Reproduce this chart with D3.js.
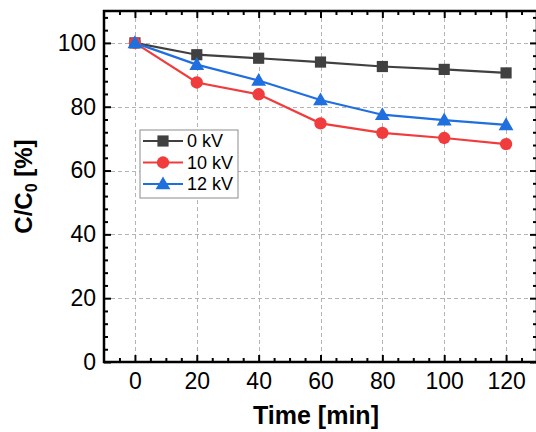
<!DOCTYPE html>
<html>
<head>
<meta charset="utf-8">
<script src="https://cdn.jsdelivr.net/npm/d3@7"></script>
<style>
  body { margin: 0; background: #fff; }
  svg { display: block; font-family: "Liberation Sans", Arial, sans-serif; }
</style>
</head>
<body>
<svg id="chart" width="536" height="432"></svg>
<script>
// data
var times = [0, 20, 40, 60, 80, 100, 120];
var kv0 = [100, 96.3, 95.2, 94.0, 92.6, 91.7, 90.6];
var kv10 = [100, 87.6, 83.9, 74.8, 71.8, 70.2, 68.3];
var kv12 = [100, 93.2, 88.2, 82.1, 77.5, 75.8, 74.3];
var seriesNames = ['0 kV', '10 kV', '12 kV'];
var xTicks = [0, 20, 40, 60, 80, 100, 120];
var yTicks = [0, 20, 40, 60, 80, 100];

var series = [
  {name: seriesNames[0], values: kv0, color: '#404040', symbol: d3.symbolSquare, size: 125},
  {name: seriesNames[1], values: kv10, color: '#f03c3c', symbol: d3.symbolCircle, size: 120},
  {name: seriesNames[2], values: kv12, color: '#1f6fdf', symbol: d3.symbolTriangle, size: 95}
];

// plot frame (window.top is read-only, so no plain "top" here)
var plotL = 104, plotR = 537, plotT = 11, plotB = 362;

var x = d3.scaleLinear().domain([-10, 130]).range([plotL, plotR]);
var y = d3.scaleLinear().domain([0, 110]).range([plotB, plotT]);

var svg = d3.select('#chart');

// dashed grid
var grid = svg.append('g').attr('class', 'grid')
    .attr('stroke', '#b4b4b4').attr('stroke-dasharray', '4,3').attr('stroke-width', 1);
grid.selectAll('line.v').data(xTicks).enter().append('line')
    .attr('x1', function(d) { return Math.round(x(d)) + 0.5; })
    .attr('x2', function(d) { return Math.round(x(d)) + 0.5; })
    .attr('y1', plotT).attr('y2', plotB);
grid.selectAll('line.h').data(yTicks.filter(function(d) { return d > 0; })).enter().append('line')
    .attr('y1', function(d) { return Math.round(y(d)) + 0.5; })
    .attr('y2', function(d) { return Math.round(y(d)) + 0.5; })
    .attr('x1', plotL).attr('x2', plotR);

// axes, ticks inward on all four sides
var xMinor = d3.range(-5, 131, 5).filter(function(d) { return d % 20 !== 0; });
var yMinor = d3.range(4, 110, 4).filter(function(d) { return d % 20 !== 0; });

function addAxis(axis, tr) {
  var g = svg.append('g').attr('transform', tr).call(axis);
  g.select('.domain').remove();
  g.selectAll('line').attr('stroke', '#000').attr('stroke-width', 2);
  return g;
}

var xb = addAxis(d3.axisBottom(x).tickValues(xTicks).tickSize(-7).tickPadding(11)
    .tickFormat(d3.format('d')), 'translate(0,' + plotB + ')');
xb.selectAll('text').attr('font-size', 23).attr('fill', '#000');
addAxis(d3.axisBottom(x).tickValues(xMinor).tickSize(-4).tickFormat(''), 'translate(0,' + plotB + ')');
addAxis(d3.axisTop(x).tickValues(xTicks).tickSize(-7).tickFormat(''), 'translate(0,' + plotT + ')');
addAxis(d3.axisTop(x).tickValues(xMinor).tickSize(-4).tickFormat(''), 'translate(0,' + plotT + ')');

var yl = addAxis(d3.axisLeft(y).tickValues(yTicks).tickSize(-7).tickPadding(8)
    .tickFormat(d3.format('d')), 'translate(' + plotL + ',0)');
yl.selectAll('text').attr('font-size', 23).attr('fill', '#000');
addAxis(d3.axisLeft(y).tickValues(yMinor).tickSize(-4).tickFormat(''), 'translate(' + plotL + ',0)');
addAxis(d3.axisRight(y).tickValues(yTicks).tickSize(-7).tickFormat(''), 'translate(' + plotR + ',0)');
addAxis(d3.axisRight(y).tickValues(yMinor).tickSize(-4).tickFormat(''), 'translate(' + plotR + ',0)');

// frame
svg.append('rect')
    .attr('x', plotL).attr('y', plotT)
    .attr('width', plotR - plotL).attr('height', plotB - plotT)
    .attr('fill', 'none').attr('stroke', '#000').attr('stroke-width', 2.5);

// lines and markers
var line = d3.line()
    .x(function(d, i) { return x(times[i]); })
    .y(function(d) { return y(d); });

series.forEach(function(s) {
  svg.append('path')
      .datum(s.values)
      .attr('d', line)
      .attr('fill', 'none')
      .attr('stroke', s.color)
      .attr('stroke-width', 2.2);
});

series.forEach(function(s) {
  var dy = s.symbol === d3.symbolTriangle ? 1 : 0;
  svg.append('g').selectAll('path')
      .data(s.values)
      .enter().append('path')
      .attr('d', d3.symbol().type(s.symbol).size(s.size))
      .attr('transform', function(d, i) {
        return 'translate(' + x(times[i]) + ',' + (y(d) + dy) + ')';
      })
      .attr('fill', s.color);
});

// legend
var lg = svg.append('g').attr('transform', 'translate(140,130)');
lg.append('rect')
    .attr('x', 0).attr('y', 0).attr('width', 98).attr('height', 68)
    .attr('fill', '#fff').attr('stroke', '#8c8c8c').attr('stroke-width', 1);
series.forEach(function(s, i) {
  var ry = 11 + i * 21.5;
  lg.append('line')
      .attr('x1', 3).attr('x2', 43).attr('y1', ry).attr('y2', ry)
      .attr('stroke', s.color).attr('stroke-width', 2.2);
  lg.append('path')
      .attr('d', d3.symbol().type(s.symbol).size(s.size))
      .attr('transform', 'translate(23,' + (ry + (s.symbol === d3.symbolTriangle ? 1 : 0)) + ')')
      .attr('fill', s.color);
  lg.append('text')
      .attr('x', 47).attr('y', ry).attr('dy', '0.36em')
      .attr('font-size', 18).attr('fill', '#000')
      .text(s.name);
});

// axis titles
svg.append('text')
    .attr('x', 316).attr('y', 424)
    .attr('text-anchor', 'middle')
    .attr('font-size', 25).attr('font-weight', 'bold')
    .text('Time [min]');

var yt = svg.append('text')
    .attr('transform', 'translate(32,' + ((plotT + plotB) / 2) + ') rotate(-90)')
    .attr('text-anchor', 'middle')
    .attr('font-size', 24).attr('font-weight', 'bold');
yt.append('tspan').text('C/C');
yt.append('tspan').attr('font-size', 16).attr('dy', 5).text('0');
yt.append('tspan').attr('dy', -5).text(' [%]');
</script>
</body>
</html>
